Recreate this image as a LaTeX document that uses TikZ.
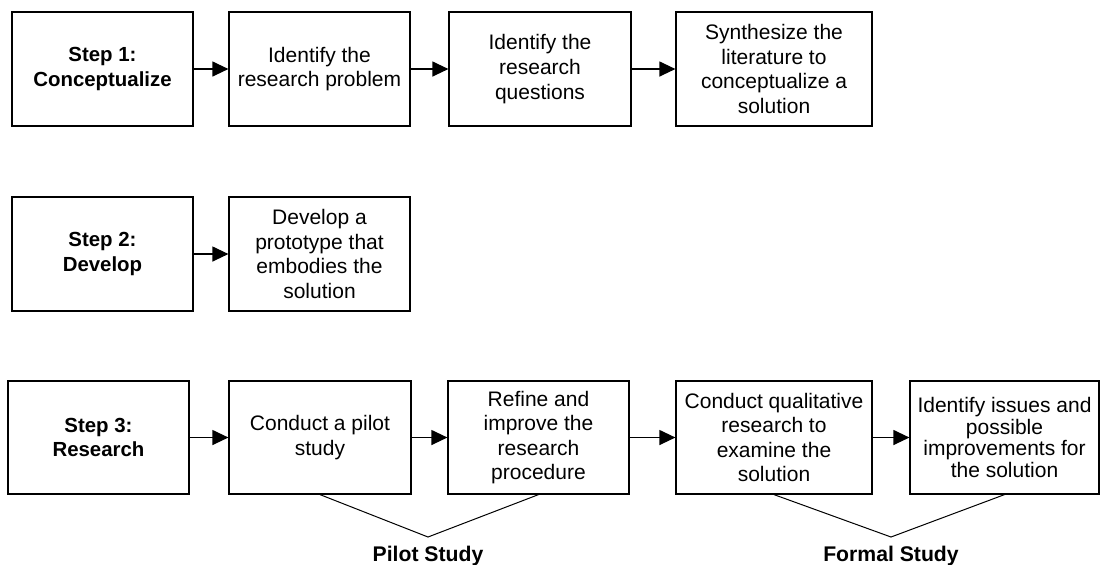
\documentclass[tikz,border=0pt]{standalone}
\usepackage{fontspec}
\setmainfont{Liberation Sans}
\usetikzlibrary{arrows.meta}
\begin{document}
\begin{tikzpicture}[x=0.5pt,y=-0.5pt,
  box/.style={draw=black, line width=0.6pt, rectangle, inner sep=0pt, align=center,
    font=\fontsize{10.5}{12.3}\selectfont, minimum height=57pt},
  stepbox/.style={box, font=\fontsize{10.2}{12.3}\selectfont\bfseries},
  flow/.style={draw=black, line width=0.6pt, -{Triangle[length=8pt,width=7.5pt]}},
  bracket/.style={draw=black, line width=0.5pt},
  tag/.style={font=\fontsize{10.6}{12}\selectfont\bfseries, anchor=base, inner sep=0pt}]
\useasboundingbox (0,0) rectangle (1101,564);

% Step 1
\node[stepbox, minimum width=90.5pt] (s1) at (102.5,69) {Step 1:\\Conceptualize};
\node[box, minimum width=90.5pt] (a1) at (319.5,69) {Identify the\\research problem};
\node[box, minimum width=91pt] (b1) at (540,69) {Identify the\\research\\questions};
\node[box, minimum width=98pt] (c1) at (774,69) {Synthesize the\\literature to\\conceptualize a\\solution};
\draw[flow] (s1) -- (a1);
\draw[flow] (a1) -- (b1);
\draw[flow] (b1) -- (c1);

% Step 2
\node[stepbox, minimum width=90.5pt] (s2) at (102.5,254) {Step 2:\\Develop};
\node[box, minimum width=90.5pt] (a2) at (319.5,254) {Develop a\\prototype that\\embodies the\\solution};
\draw[flow] (s2) -- (a2);

% Step 3
\node[stepbox, minimum width=90.5pt, minimum height=56.5pt] (s3) at (98.5,437.5) {Step 3:\\Research};
\node[box, minimum width=91pt, minimum height=56.5pt] (a3) at (320,437.5) {Conduct a pilot\\study};
\node[box, minimum width=90.5pt, minimum height=56.5pt] (b3) at (538.5,437.5) {Refine and\\improve the\\research\\procedure};
\node[box, minimum width=98pt, minimum height=56.5pt] (c3) at (774,437.5) {Conduct qualitative\\research to\\examine the\\solution};
\node[box, minimum width=94.5pt, minimum height=56.5pt, font=\fontsize{10.5}{10.8}\selectfont] (d3) at (1004.5,437.5) {Identify issues and\\possible\\improvements for\\the solution};
\draw[flow] (s3) -- (a3);
\draw[flow] (a3) -- (b3);
\draw[flow] (b3) -- (c3);
\draw[flow] (c3) -- (d3);

% Study groupings
\coordinate (pilotapex) at (428,537);
\coordinate (formalapex) at (891,537);
\draw[bracket] (a3.south) -- (pilotapex) -- (b3.south);
\draw[bracket] (c3.south) -- (formalapex) -- (d3.south);
\node[tag] (pilot) at (428,561) {Pilot Study};
\node[tag] (formal) at (891,561) {Formal Study};
\end{tikzpicture}
\end{document}
